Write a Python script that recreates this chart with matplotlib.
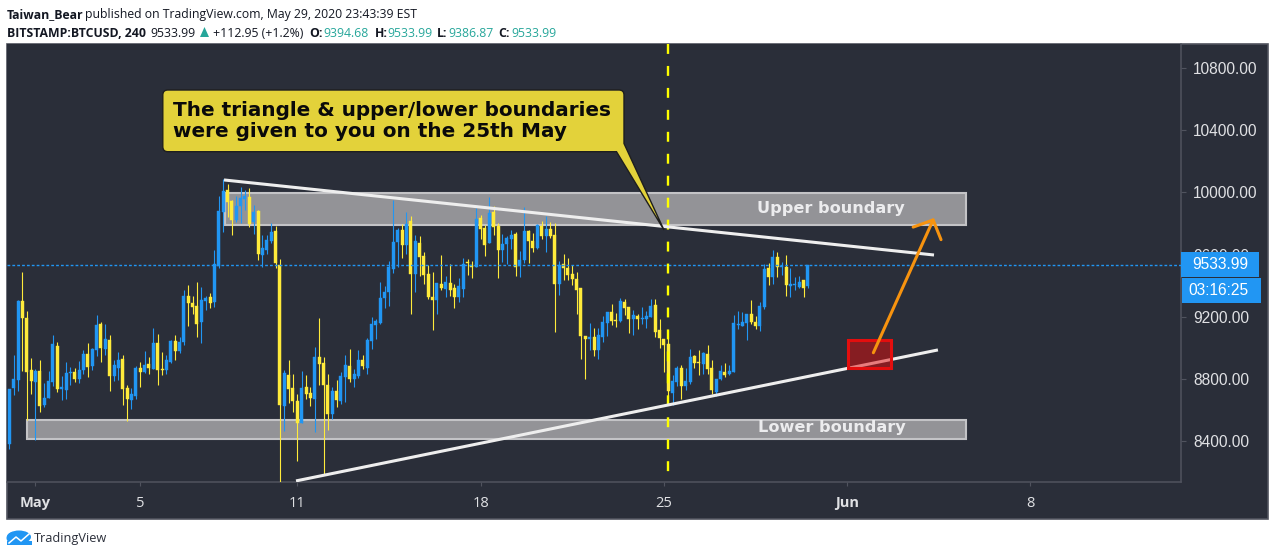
import numpy as np
import matplotlib
matplotlib.use("Agg")
import matplotlib.pyplot as plt
from matplotlib.patches import Rectangle, PathPatch, Ellipse, Polygon
from matplotlib.path import Path

# 4h candles, BITSTAMP:BTCUSD
opens = [8381,8741,8793,9301,9192,8857,8780,8851,8632,8677,
         8780,9011,8735,8728,8838,8844,8799,8857,8960,8883,
         8986,9153,8992,9050,8818,8870,8928,8741,8664,8690,
         8870,8844,8896,8863,9031,8863,8857,8908,9044,8979,
         9037,9333,9288,9269,9166,9301,9327,9295,9526,9874,
         10015,9945,9822,9912,9957,9970,9809,9880,9597,9629,
         9687,9751,9533,8625,8825,8741,8658,8516,8748,8709,
         8670,8941,8902,8760,8574,8722,8658,8812,8883,8799,
         8818,8921,8870,9044,9147,9159,9320,9359,9507,9681,
         9758,9661,9816,9475,9674,9591,9475,9327,9307,9410,
         9378,9417,9385,9327,9378,9552,9533,9520,9835,9771,
         9674,9874,9784,9629,9668,9700,9732,9526,9565,9751,
         9687,9642,9784,9719,9764,9726,9410,9539,9513,9475,
         9443,9385,9076,9056,9069,8986,9069,9159,9230,9179,
         9172,9295,9262,9185,9204,9185,9185,9198,9275,9114,
         9056,9024,8709,8780,8870,8754,8780,8947,8908,8896,
         8960,8870,8715,8799,8844,8831,8844,9147,9140,9159,
         9217,9166,9140,9262,9513,9455,9584,9520,9520,9398,
         9404,9391,9436,9394.68]
closes = [8735,8799,9301,9192,8844,8786,8851,8625,8677,8786,
          9024,8735,8748,8838,8844,8799,8857,8960,8876,8992,
          9147,8999,9056,8818,8889,8921,8735,8670,8703,8870,
          8844,8889,8870,9031,8857,8857,8921,9044,8979,9037,
          9333,9288,9262,9153,9307,9320,9288,9539,9880,10007,
          9938,9822,9912,9964,9977,9797,9874,9603,9642,9694,
          9745,9546,8632,8838,8735,8658,8516,8741,8703,8677,
          8941,8896,8760,8574,8722,8664,8818,8889,8799,8831,
          8921,8883,9050,9153,9172,9320,9359,9520,9681,9758,
          9661,9797,9475,9687,9584,9468,9327,9307,9417,9385,
          9423,9372,9327,9398,9539,9546,9520,9829,9764,9661,
          9867,9777,9629,9668,9706,9726,9520,9565,9751,9687,
          9642,9790,9719,9764,9719,9410,9533,9513,9468,9443,
          9372,9076,9056,9069,8986,9082,9166,9230,9172,9172,
          9301,9256,9185,9211,9185,9192,9204,9269,9102,9063,
          9018,8722,8786,8870,8754,8786,8941,8902,8902,8966,
          8863,8728,8799,8851,8825,8851,9159,9153,9166,9217,
          9166,9140,9269,9507,9455,9584,9520,9526,9404,9410,
          9410,9423,9385,9533.99]
highs = [8735,8954,9307,9488,9237,8934,8863,8921,8773,8851,
         9082,9037,8818,8908,8876,8870,8915,8986,9031,8999,
         9211,9166,9153,9082,8921,8973,8954,8760,8741,8883,
         8908,8979,8941,9127,9089,8973,8954,9050,9082,9069,
         9372,9404,9333,9423,9391,9333,9352,9629,9977,10084,
         10054,9951,9977,10035,10015,10028,9919,9887,9726,9726,
         9801,9784,9571,8857,8921,8831,8703,8851,8825,8748,
         9005,9192,8941,8831,8748,8793,8844,8954,8992,8863,
         8986,8954,9063,9198,9185,9423,9398,9558,9951,9771,
         9797,9874,9848,9726,9719,9616,9533,9488,9417,9597,
         9462,9539,9410,9449,9578,9571,9558,9899,9854,9790,
         9970,9912,9803,9732,9719,9758,9745,9623,9906,9758,
         9739,9797,9816,9848,9809,9803,9558,9603,9578,9533,
         9488,9385,9076,9159,9127,9127,9204,9230,9282,9224,
         9320,9314,9262,9243,9217,9262,9237,9314,9314,9185,
         9056,9114,8825,8883,8889,8870,8992,8954,8986,8973,
         9018,8921,8799,8889,8902,8889,9211,9237,9230,9217,
         9307,9204,9295,9539,9546,9629,9616,9552,9597,9513,
         9455,9462,9436,9533.99]
lows = [8351,8696,8722,8851,8535,8703,8407,8587,8619,8677,
        8754,8715,8664,8670,8760,8780,8773,8831,8812,8857,
        8947,8908,8954,8722,8786,8793,8632,8529,8606,8670,
        8748,8838,8831,8863,8760,8825,8831,8902,8921,8966,
        9018,9140,9217,9069,9031,9243,9256,9262,9513,9745,
        9842,9726,9809,9803,9887,9777,9732,9565,9520,9603,
        9674,9513,8100,8464,8645,8587,8271,8516,8670,8625,
        8458,8760,8181,8471,8542,8619,8638,8651,8780,8748,
        8806,8863,8831,8992,9056,9153,9256,9269,9481,9520,
        9578,9603,9217,9359,9462,9410,9314,9114,9217,9372,
        9327,9333,9256,9295,9327,9468,9449,9520,9700,9591,
        9674,9726,9449,9552,9539,9636,9462,9455,9546,9546,
        9616,9636,9700,9616,9706,9102,9340,9436,9436,9404,
        9217,8928,8799,8986,8947,8928,9037,9076,9147,9134,
        9166,9211,9095,9082,9121,9153,9127,9198,9069,8999,
        8844,8632,8632,8754,8670,8728,8767,8870,8825,8831,
        8831,8703,8690,8793,8812,8825,8844,9121,9140,9050,
        9153,9121,9108,9250,9404,9410,9455,9468,9333,9327,
        9372,9385,9327,9386.87]

price_ticks = [8400, 8800, 9200, 9600, 10000, 10400, 10800]
date_ticks = [6, 30, 66, 108, 150, 192, 234]
date_labels = ["May", "5", "11", "18", "25", "Jun", "8"]
last_price = 9533.99

# drawings, in bar index / price
upper_zone = [49.4, 219.2, 9790, 9996]
lower_zone = [4.05, 219.2, 8413, 8535]
top_line = [49.2, 211.9, 10080, 9597]
bottom_line = [65.7, 212.8, 8143, 8986]
red_zone = [192.1, 202.1, 8872, 9050]
arrow_from = (198, 8968)
arrow_to = (211.9, 9835)
marker_bar = 151

BG = "#2a2e39"
GRID = "#50535e"
TXT = "#e0e1e4"
UP = "#2196f3"
DOWN = "#ffeb3b"
TEAL = "#26a69a"

opens = np.array(opens)
closes = np.array(closes)
highs = np.array(highs)
lows = np.array(lows)
idx = np.arange(len(opens))
colors = [UP if c >= o else DOWN for o, c in zip(opens, closes)]

fig = plt.figure(figsize=(12.74, 5.56), dpi=100, facecolor="white")

# panel behind everything, pixel coordinates
back = fig.add_axes([0, 0, 1, 1], zorder=0)
back.set_xlim(0, 1274)
back.set_ylim(556, 0)
back.axis("off")
back.add_patch(Rectangle((7, 43.5), 1260.5, 475.5, fc=BG, ec=GRID, lw=1.2))

ax = fig.add_axes([7 / 1274, (556 - 482) / 556, 1174 / 1274, 438 / 556], zorder=1)
ax.set_facecolor(BG)
ax.set_xlim(-0.53, 268.5)
ax.set_ylim(8136, 10955)
for s in ["top", "left"]:
    ax.spines[s].set_visible(False)
for s in ["right", "bottom"]:
    ax.spines[s].set_color(GRID)
    ax.spines[s].set_linewidth(1.1)

ax.yaxis.tick_right()
ax.set_yticks(price_ticks)
ax.set_yticklabels(["%.2f" % p for p in price_ticks], family="Liberation Sans", fontsize=11.2, color=TXT)
ax.tick_params(axis="y", length=3.6, width=0.8, color=GRID, pad=5)
ax.set_xticks(date_ticks)
ax.set_xticklabels(date_labels, family="Open Sans", fontsize=10.5, color=TXT)
for lab in ax.get_xticklabels():
    if lab.get_text() in ("May", "Jun"):
        lab.set_fontweight("bold")
ax.tick_params(axis="x", length=2.9, width=0.8, color=GRID, pad=7)

# zones under the candles
for z in [upper_zone, lower_zone]:
    ax.add_patch(Rectangle((z[0], z[2]), z[1] - z[0], z[3] - z[2], fc="#939397", ec="#c3c3c6", lw=1.5, zorder=2))

ax.vlines(idx, lows, highs, colors=colors, lw=0.8, zorder=3)
ax.bar(idx, np.abs(closes - opens), bottom=np.minimum(opens, closes), width=0.68,
       color=colors, edgecolor=colors, lw=0.3, zorder=3)

ax.axhline(last_price, color=UP, lw=1.0, ls=(0, (2, 1.5)), zorder=3)
# dashes start from the top of the pane
ax.axvline(marker_bar, ymin=1, ymax=0, color="#ffff00", lw=1.7, ls=(0, (4.2, 5.1)), zorder=4)

ax.plot(top_line[:2], top_line[2:], color="#eeeeee", lw=2.2, solid_capstyle="butt", zorder=5)
ax.plot(bottom_line[:2], bottom_line[2:], color="#eeeeee", lw=2.2, solid_capstyle="butt", zorder=5)

ax.add_patch(Rectangle((red_zone[0], red_zone[2]), red_zone[1] - red_zone[0], red_zone[3] - red_zone[2],
                       fc=(0.89, 0.05, 0.05, 0.5), ec="#e30e0e", lw=2.2, zorder=6))
ax.annotate("", xy=arrow_to, xytext=arrow_from, zorder=7,
            arrowprops=dict(arrowstyle="->,head_length=1.06,head_width=1.1", mutation_scale=10,
                            color="#f7930f", lw=2.2, shrinkA=0, shrinkB=0))

ax.text(188.2, 9899, "Upper boundary", family="DejaVu Sans", weight="bold", fontsize=11.6,
        color="#ececee", ha="center", va="center", zorder=6)
ax.text(188.4, 8484, "Lower boundary", family="DejaVu Sans", weight="bold", fontsize=11.6,
        color="#ececee", ha="center", va="center", zorder=6)

# everything on top, pixel coordinates
top = fig.add_axes([0, 0, 1, 1], zorder=2)
top.set_xlim(0, 1274)
top.set_ylim(556, 0)
top.axis("off")

# callout
l, r, t, b, rad = 162.8, 624, 90, 151.7, 5
verts = [(l + rad, t), (r - rad, t), (r, t), (r, t + rad), (r, 143.5), (664, 230), (616.5, b),
         (l + rad, b), (l, b), (l, b - rad), (l, t + rad), (l, t), (l + rad, t), (l + rad, t)]
codes = [Path.MOVETO, Path.LINETO, Path.CURVE3, Path.CURVE3, Path.LINETO, Path.LINETO, Path.LINETO,
         Path.LINETO, Path.CURVE3, Path.CURVE3, Path.LINETO, Path.CURVE3, Path.CURVE3, Path.CLOSEPOLY]
top.add_patch(PathPatch(Path(verts, codes), fc="#e3d23a", ec="#1e1e1e", lw=1))
top.text(173, 116, "The triangle & upper/lower boundaries", family="DejaVu Sans", weight="bold",
         fontsize=14.4, color="#0a0a0a", va="baseline")
top.text(173, 137, "were given to you on the 25th May", family="DejaVu Sans", weight="bold",
         fontsize=14.4, color="#0a0a0a", va="baseline")

# price and countdown labels
top.add_patch(Rectangle((1181, 252), 78, 25, fc=UP, ec="none"))
top.add_patch(Rectangle((1182, 278), 79, 24.7, fc=UP, ec="none"))
top.text(1192, 264.5, "9533.99", family="Liberation Sans", fontsize=11.2, color="white", va="center")
top.text(1188, 290.5, "03:16:25", family="Liberation Sans", fontsize=11.2, color="white", va="center")

# header
head = dict(family="Open Sans", fontsize=8.8, va="baseline", color="#131722")
top.text(7, 18, "Taiwan_Bear", weight="bold", **head)
top.text(85, 18, "published on TradingView.com, May 29, 2020 23:43:39 EST", **head)
top.text(7, 37, "BITSTAMP:BTCUSD, 240", weight="bold", **head)
top.text(150, 37, "9533.99", **head)
top.add_patch(Polygon([(200, 37), (209, 37), (204.5, 27)], fc=TEAL, ec="none"))
top.text(213, 37, "+112.95 (+1.2%)", **head)
for px, s in [(309, "O:"), (375, "H:"), (437, "L:"), (498, "C:")]:
    top.text(px, 37, s, weight="bold", **head)
for px, s in [(323, "9394.68"), (387, "9533.99"), (448, "9386.87"), (511, "9533.99")]:
    top.text(px, 37, s, family="Open Sans", fontsize=8.8, va="baseline", color=TEAL)

# logo
top.add_patch(Ellipse((19, 537), 24, 13, fc=UP, ec="none"))
top.add_patch(Ellipse((14, 538), 15, 12, fc=UP, ec="none"))
top.add_patch(Rectangle((6.5, 541), 25.5, 4, fc=UP, ec="none"))
top.plot([9, 16, 21, 29], [543, 537, 541, 534], color="white", lw=1.1)
top.text(34, 542, "TradingView", family="Open Sans", fontsize=9.2, color="#2b2f3a", va="baseline")

fig.savefig("out.png", dpi=100)
